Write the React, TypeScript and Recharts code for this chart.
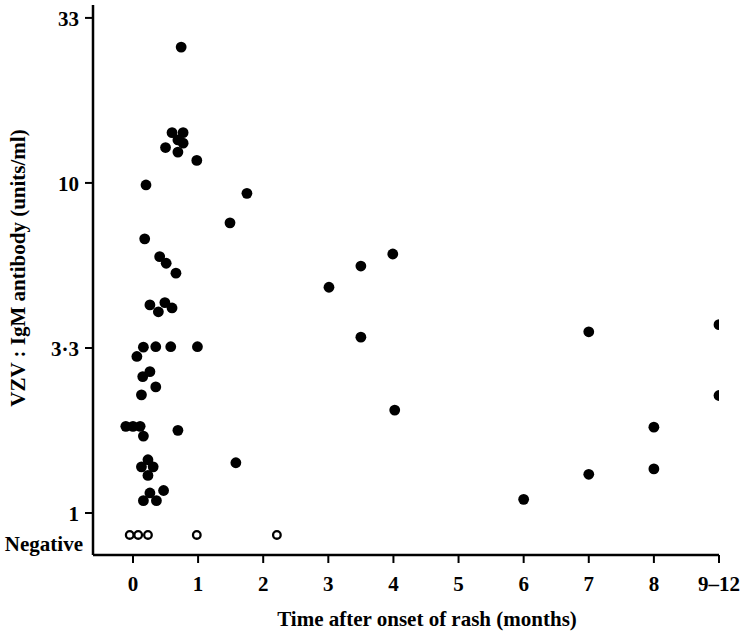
import React from "react";
import { ScatterChart, Scatter, XAxis, YAxis, Label } from "recharts";

// positive sera: months after rash, IgM units/ml
const positiveMonths = [
  0.74, 0.6, 0.77, 0.69, 0.77, 0.5, 0.69, 0.98, 0.2,
  1.49, 0.18, 0.41, 0.51, 0.66, 0.26, 0.39, 0.49, 0.6,
  0.16, 0.35, 0.58, 0.99, 0.06, 0.26, 0.15,
  0.35, 0.13, -0.11, 0.0, 0.11, 0.16, 0.69, 0.23, 0.13, 0.31, 0.23, 0.47, 0.26, 0.16, 0.36,
  1.75, 3.99, 3.5, 3.01, 3.5, 4.02, 1.58,
  7.0, 9.0, 9.0, 8.0, 8.0, 7.0, 6.0,
];
const positiveUnits = [
  25.8, 14.2, 14.2, 13.5, 13.2, 12.8, 12.4, 11.7, 9.86,
  7.57, 6.77, 5.98, 5.71, 5.33, 4.27, 4.07, 4.34, 4.18,
  3.18, 3.19, 3.19, 3.19, 2.98, 2.68, 2.59,
  2.41, 2.28, 1.83, 1.83, 1.83, 1.71, 1.78, 1.45, 1.38, 1.38, 1.3, 1.17, 1.15, 1.09, 1.09,
  9.3, 6.09, 5.6, 4.83, 3.41, 2.05, 1.42,
  3.54, 3.72, 2.27, 1.82, 1.36, 1.31, 1.1,
];

// negative sera (plotted on the "Negative" row)
const negativeMonths = [-0.05, 0.08, 0.23, 0.98, 2.21];
const NEGATIVE_LEVEL = 0.858;

const xTicks = [0, 1, 2, 3, 4, 5, 6, 7, 8, 9];
const xTickLabels = ["0", "1", "2", "3", "4", "5", "6", "7", "8", "9–12"];
const yTicks = [1, 3.162, 10, 31.62];
const yTickLabels = ["1", "3·3", "10", "33"];

const positiveData = positiveMonths.map((m, i) => ({ month: m, units: positiveUnits[i] }));
const negativeData = negativeMonths.map((m) => ({ month: m, units: NEGATIVE_LEVEL }));

const FONT = "'Liberation Serif', 'DejaVu Serif', serif";
const textStyle = { fontFamily: FONT, fontSize: 21, fontWeight: "bold" as const, fill: "#000" };

const FilledDot = (props: any) => <circle cx={props.cx} cy={props.cy} r={5.4} fill="#000" />;
const OpenDot = (props: any) => (
  <circle cx={props.cx} cy={props.cy} r={3.8} fill="#fff" stroke="#000" strokeWidth={2.3} />
);

const YTick = (props: any) => {
  const { x, y, payload } = props;
  if (payload.value === NEGATIVE_LEVEL) {
    return (
      <text x={x + 2} y={y + 9} textAnchor="end" dominantBaseline="central" {...textStyle}>
        Negative
      </text>
    );
  }
  const idx = yTicks.indexOf(payload.value);
  return (
    <g>
      <line x1={x + 4} x2={x + 12} y1={y} y2={y} stroke="#000" strokeWidth={2} />
      <text x={x - 2} y={y + 1} textAnchor="end" dominantBaseline="central" {...textStyle}>
        {yTickLabels[idx]}
      </text>
    </g>
  );
};

export default function App() {
  return (
    <div style={{ position: "absolute", left: 0, top: 0, background: "#fff" }}>
      <ScatterChart width={749} height={635} margin={{ top: 5, right: 30, left: 0, bottom: 0 }}>
        <XAxis
          type="number"
          dataKey="month"
          domain={[-0.614, 9]}
          allowDataOverflow
          ticks={xTicks}
          interval={0}
          tickFormatter={(v: number) => xTickLabels[xTicks.indexOf(v)]}
          height={80}
          tickSize={8}
          tickMargin={13}
          axisLine={{ stroke: "#000", strokeWidth: 2.5 }}
          tickLine={{ stroke: "#000", strokeWidth: 2 }}
          tick={textStyle}
        >
          <Label
            content={(p: any) => {
              const vb = p.viewBox;
              return (
                <text x={vb.x + vb.width / 2 + 21} y={619} textAnchor="middle" dominantBaseline="central" {...textStyle}>
                  Time after onset of rash (months)
                </text>
              );
            }}
          />
        </XAxis>
        <YAxis
          type="number"
          dataKey="units"
          scale="log"
          domain={[0.746, 34.6]}
          allowDataOverflow
          ticks={[NEGATIVE_LEVEL, ...yTicks]}
          interval={0}
          width={93}
          tickSize={8}
          tickMargin={4}
          tickLine={false}
          axisLine={{ stroke: "#000", strokeWidth: 2.5 }}
          tick={<YTick />}
        >
          <Label
            content={() => (
              <text
                x={18}
                y={268}
                transform="rotate(-90, 18, 268)"
                textAnchor="middle"
                dominantBaseline="central"
                {...textStyle}
              >
                VZV : IgM antibody (units/ml)
              </text>
            )}
          />
        </YAxis>
        <Scatter data={positiveData} shape={FilledDot} isAnimationActive={false} />
        <Scatter data={negativeData} shape={OpenDot} isAnimationActive={false} />
      </ScatterChart>
    </div>
  );
}
